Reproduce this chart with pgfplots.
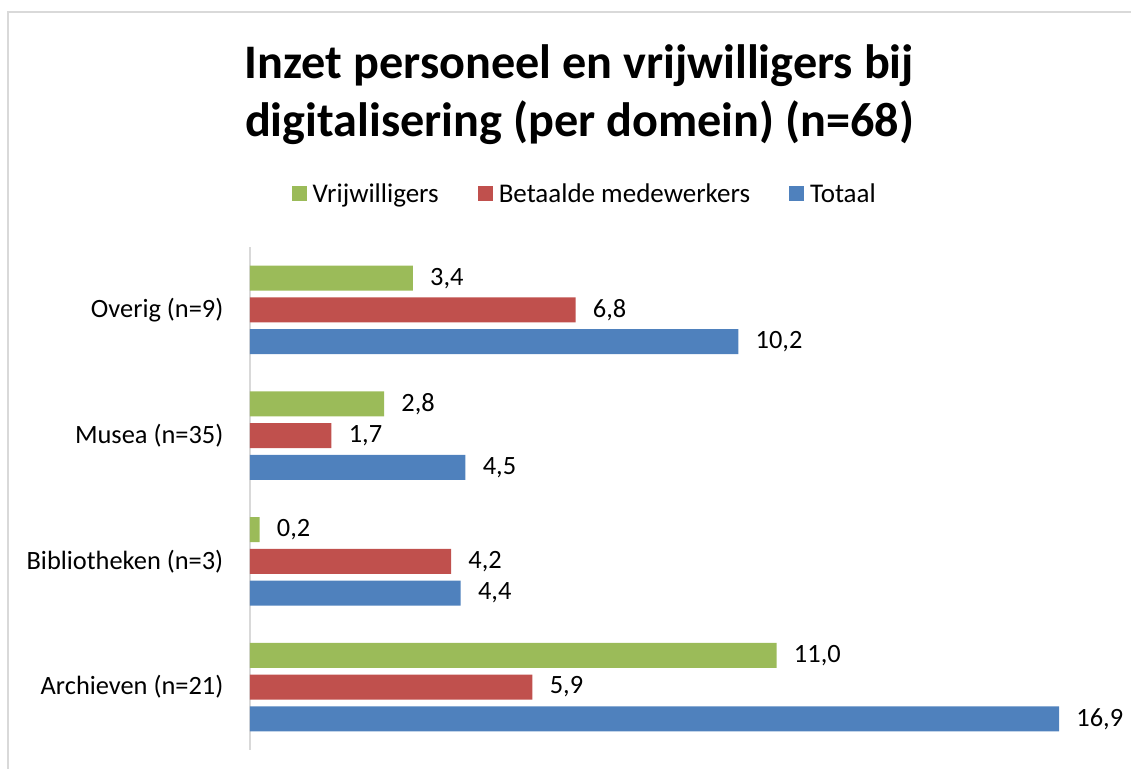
\documentclass[border=0pt]{standalone}
\usepackage{fontspec}
\setmainfont{Carlito}
\usepackage{pgfplots}
\pgfplotsset{compat=1.18}
\definecolor{cgreen}{HTML}{9BBB59}
\definecolor{cred}{HTML}{C0504D}
\definecolor{cblue}{HTML}{4F81BD}
\definecolor{cborder}{HTML}{D9D9D9}
\begin{document}
\begin{tikzpicture}
\useasboundingbox (-125pt,-9.5pt) rectangle (440.5pt,375pt);
\draw[cborder, line width=0.9pt] (-121pt,-20pt) -- (-121pt,369pt) -- (460pt,369pt);
\node[anchor=base, inner sep=0pt, font=\fontsize{24.1}{29}\selectfont\bfseries] at (164.75pt,335.5pt) {Inzet personeel en vrijwilligers bij};
\node[anchor=base, inner sep=0pt, font=\fontsize{24.1}{29}\selectfont\bfseries] at (164.75pt,306.5pt) {digitalisering (per domein) (n=68)};
\begin{axis}[
  scale only axis, width=430.85pt, height=251.5pt,
  xmin=0, xmax=18, ymin=-0.5, ymax=3.5,
  xbar, bar width=12.5pt,
  axis x line=none, axis y line=left,
  axis line style={-, draw=cborder, line width=0.9pt},
  xtick=\empty,
  ytick={0,1,2,3},
  yticklabels={Archieven (n=21),Bibliotheken (n=3),Musea (n=35),Overig (n=9)},
  ytick style={draw=none},
  yticklabel style={font=\fontsize{13.2}{15.8}\selectfont, inner sep=0pt, xshift=-11pt},
  clip=false,
  nodes near coords,
  nodes near coords style={font=\fontsize{13.2}{15.8}\selectfont, anchor=west, inner sep=0pt, xshift=8.5pt, text=black},
  legend columns=3,
  reverse legend,
  legend style={at={(rel axis cs:0.0482,1.1068)}, anchor=west, draw=none, fill=none,
    inner sep=0pt, outer sep=0pt,
    font=\fontsize{13.5}{16}\selectfont,
    nodes={inner sep=0pt, outer sep=0pt, text depth=0pt},
    /tikz/every odd column/.append style={column sep=3pt},
    /tikz/every even column/.append style={column sep=19.5pt}},
  legend image code/.code={\fill[#1] (0pt,-3.75pt) rectangle (7.5pt,3.75pt);},
  /pgf/number format/use comma,
  /pgf/number format/fixed,
  /pgf/number format/fixed zerofill,
  /pgf/number format/precision=1,
  /pgf/number format/assume math mode=true,
]
\addplot[draw=none, fill=cblue, bar shift=-15.85pt] coordinates {(16.9,0) (4.4,1) (4.5,2) (10.2,3)};
\addlegendentry{Totaal}
\addplot[draw=none, fill=cred, bar shift=0pt] coordinates {(5.9,0) (4.2,1) (1.7,2) (6.8,3)};
\addlegendentry{Betaalde medewerkers}
\addplot[draw=none, fill=cgreen, bar shift=15.85pt] coordinates {(11.0,0) (0.2,1) (2.8,2) (3.4,3)};
\addlegendentry{Vrijwilligers}
\end{axis}
\end{tikzpicture}
\end{document}
